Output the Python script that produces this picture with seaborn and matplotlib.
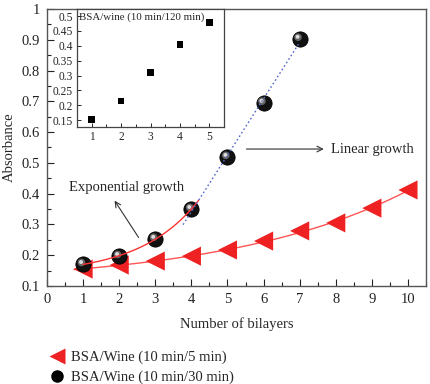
import numpy as np
import pandas as pd
import seaborn as sns
import matplotlib.pyplot as plt
import matplotlib.transforms as mtransforms
from matplotlib.ticker import MultipleLocator, FuncFormatter
from matplotlib.lines import Line2D

# data
bilayers_5 = [1, 2, 3, 4, 5, 6, 7, 8, 9, 10]
abs_5min = [0.155, 0.168, 0.181, 0.197, 0.217, 0.246, 0.279, 0.305, 0.353, 0.412]

bilayers_30 = [1, 2, 3, 4, 5, 6, 7]
abs_30min = [0.171, 0.197, 0.253, 0.350, 0.519, 0.695, 0.903]

bilayers_120 = [1, 2, 3, 4, 5]
abs_120min = [0.153, 0.215, 0.311, 0.405, 0.478]

label_5 = "BSA/Wine (10 min/5 min)"
label_30 = "BSA/Wine (10 min/30 min)"
label_120 = "BSA/wine (10 min/120 min)"


def exp_fit(x, y):
    # y = y0 + A*exp(k*x), k by grid search, y0/A by least squares
    x = np.asarray(x, float)
    y = np.asarray(y, float)
    best = None
    for k in np.linspace(0.01, 1.5, 600):
        M = np.column_stack([np.ones_like(x), np.exp(k * x)])
        coef, *_ = np.linalg.lstsq(M, y, rcond=None)
        err = np.sum((M @ coef - y) ** 2)
        if best is None or err < best[0]:
            best = (err, k, coef)
    _, k, (y0, a) = best
    return lambda t: y0 + a * np.exp(k * t)


sns.set_style("ticks")
plt.rcParams["font.family"] = ["Liberation Serif", "DejaVu Serif"]
plt.rcParams["xtick.direction"] = "in"
plt.rcParams["ytick.direction"] = "in"

fig = plt.figure(figsize=(4.3, 3.84), dpi=100)
ax = fig.add_axes([47 / 430, 1 - 286 / 384, (426 - 47) / 430, (286 - 9) / 384])

red = "#ee2222"
df5 = pd.DataFrame({"x": bilayers_5, "y": abs_5min})
df30 = pd.DataFrame({"x": bilayers_30, "y": abs_30min})

# fits
f5 = exp_fit(bilayers_5, abs_5min)
t5 = np.linspace(0.75, 10, 200)
ax.plot(t5, f5(t5), color="#ff5555", lw=1.0, zorder=3)

f30 = exp_fit(bilayers_30[:4], abs_30min[:4])
t30 = np.linspace(1, 4.2, 100)
ax.plot(t30, f30(t30), color="#ff3333", lw=1.0, zorder=8)

slope, icpt = np.polyfit(bilayers_30[3:], abs_30min[3:], 1)
tl = np.array([3.77, 7.0])
ax.plot(tl, slope * tl + icpt, ls=(0, (1.2, 1.8)), color="#5566cc", lw=1.0, zorder=8)

# markers
sns.scatterplot(data=df5, x="x", y="y", ax=ax, marker="<", s=190, color=red,
                edgecolor="none", zorder=5)
sns.scatterplot(data=df30, x="x", y="y", ax=ax, marker="o", s=120, color="#111111",
                edgecolor="#000000", linewidth=0.6, zorder=6)
hl = mtransforms.offset_copy(ax.transData, fig=fig, x=-1.2, y=1.2, units="points")
ax.scatter(bilayers_30, abs_30min, s=30, color="#666666", edgecolor="none",
           transform=hl, zorder=7)
hl2 = mtransforms.offset_copy(ax.transData, fig=fig, x=-1.5, y=1.5, units="points")
ax.scatter(bilayers_30, abs_30min, s=8, color="#dddddd", edgecolor="none",
           transform=hl2, zorder=7)

ax.set_xlim(0, 10.5)
ax.set_ylim(0.1, 1.0)
ax.xaxis.set_major_locator(MultipleLocator(1))
ax.xaxis.set_minor_locator(MultipleLocator(0.5))
ax.yaxis.set_major_locator(MultipleLocator(0.1))
ax.yaxis.set_minor_locator(MultipleLocator(0.05))
ax.yaxis.set_major_formatter(FuncFormatter(lambda v, p: f"{v:g}"))
ax.tick_params(which="major", length=5, width=0.8, labelsize=10.5, colors="#222222", pad=5)
ax.tick_params(which="minor", length=3, width=0.8, colors="#222222")
for s in ax.spines.values():
    s.set_visible(True)
    s.set_color("#555555")
    s.set_linewidth(1.0)
ax.set_xlabel("Number of bilayers", fontsize=10.5, labelpad=8)
ax.set_ylabel("Absorbance", fontsize=10.5, labelpad=4)

# annotations
ax.text(2.2, 0.42, "Exponential growth", fontsize=10.5, ha="center", va="center")
ax.annotate("", xy=(1.83, 0.385), xytext=(2.58, 0.25),
            arrowprops=dict(arrowstyle="->", color="#333333", lw=0.8))
ax.annotate("", xy=(7.75, 0.545), xytext=(5.45, 0.545),
            arrowprops=dict(arrowstyle="->", color="#444444", lw=0.9))
ax.text(7.87, 0.545, "Linear growth", fontsize=10.5, ha="left", va="center")

# inset
axi = fig.add_axes([77 / 430, 1 - 127 / 384, (224 - 77) / 430, (127 - 9) / 384])
df120 = pd.DataFrame({"x": bilayers_120, "y": abs_120min})
sns.scatterplot(data=df120, x="x", y="y", ax=axi, marker="s", s=22, color="black",
                edgecolor="none")
axi.set_xlim(0.5, 5.5)
axi.set_ylim(0.127, 0.524)
axi.xaxis.set_major_locator(MultipleLocator(1))
axi.xaxis.set_minor_locator(MultipleLocator(0.5))
axi.yaxis.set_major_locator(MultipleLocator(0.05))
axi.yaxis.set_major_formatter(FuncFormatter(lambda v, p: f"{v:g}"))
axi.tick_params(which="major", length=3, width=0.7, labelsize=8.3, pad=3)
axi.tick_params(which="minor", length=2, width=0.7)
axi.set_xlabel("")
axi.set_ylabel("")
for s in axi.spines.values():
    s.set_visible(True)
    s.set_color("#444444")
    s.set_linewidth(0.9)
axi.text(0.57, 0.495, label_120, fontsize=7.8, ha="left", va="center")

# legend below the plot
handles = [
    Line2D([], [], ls="none", marker="<", markersize=11, color=red, markeredgecolor="none"),
    Line2D([], [], ls="none", marker="o", markersize=8, color="black"),
]
fig.legend(handles, [label_5, label_30], loc="lower left", bbox_to_anchor=(0.077, -0.035),
           frameon=False, fontsize=10.5, handletextpad=0.2, labelspacing=0.45,
           handlelength=1.5)

fig.savefig("out.png", dpi=100)
